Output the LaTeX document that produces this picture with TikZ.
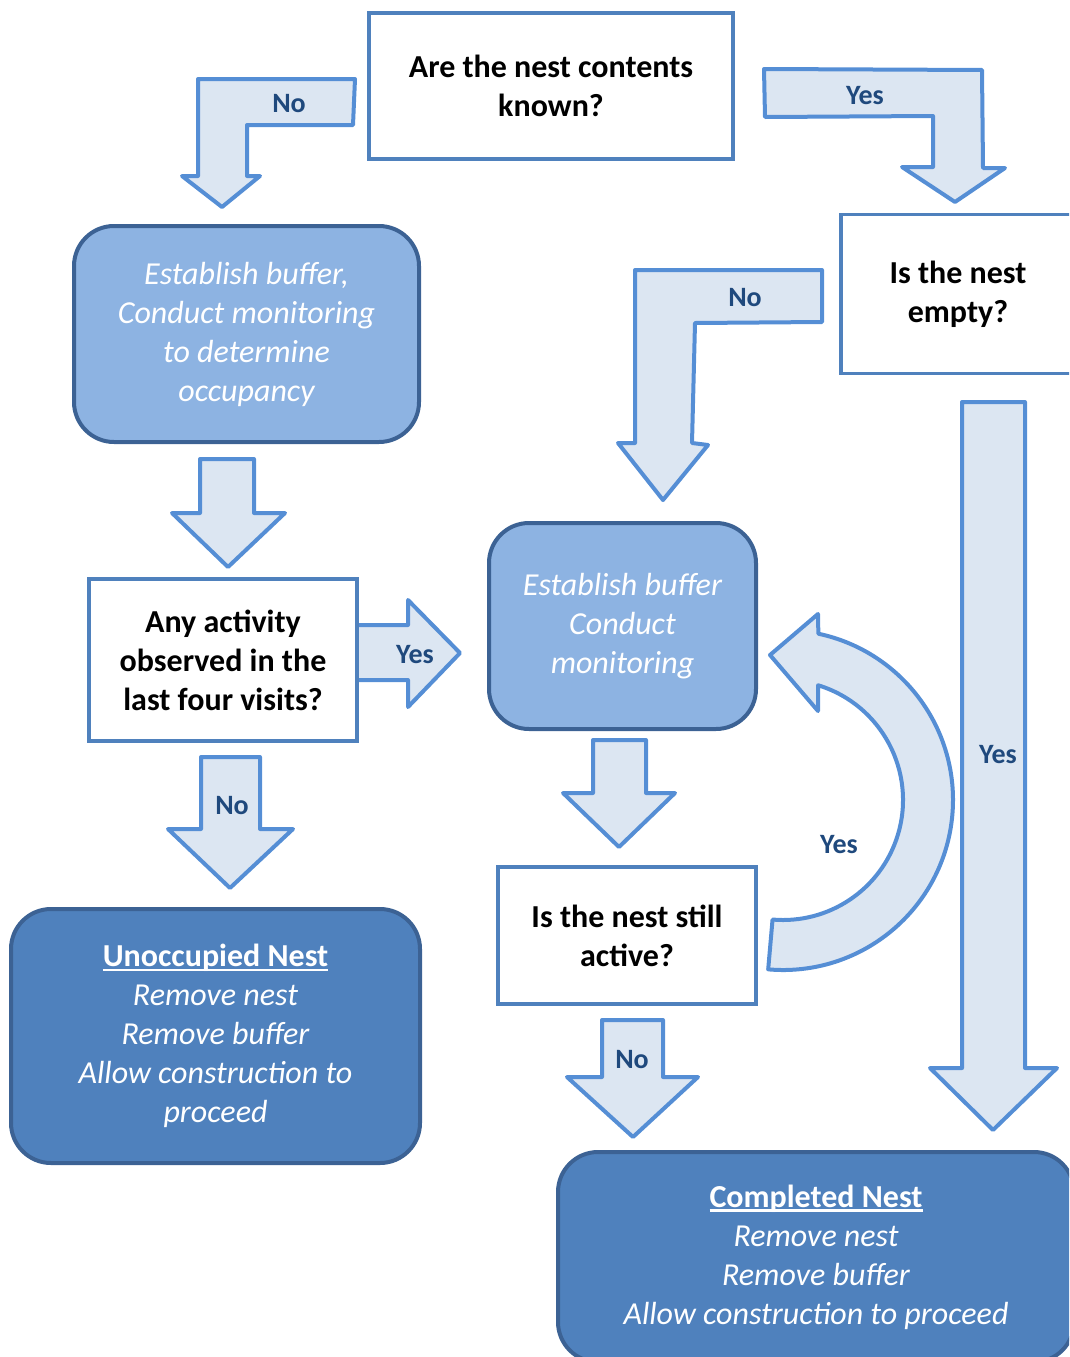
\documentclass[tikz,border=0pt]{standalone}
\usepackage{fontspec}
\setmainfont{Carlito}
\usetikzlibrary{calc}
\definecolor{arrowfill}{HTML}{DCE6F2}
\definecolor{arrowline}{HTML}{558ED5}
\definecolor{lblblue}{HTML}{1F497D}
\definecolor{lightbox}{HTML}{8DB3E2}
\definecolor{darkbox}{HTML}{4F81BD}
\definecolor{boxedge}{HTML}{3C6294}
\definecolor{qedge}{HTML}{4F81BD}
\newcommand\myul[1]{\setbox0\hbox{#1}\rlap{\rule[-4.5pt]{\wd0}{2.5pt}}\box0}
\begin{document}
\begin{tikzpicture}[x=1pt,y=-1pt,
  qbox/.style={draw=qedge, line width=3.5pt, fill=white, inner sep=0pt, align=center,
    font=\fontsize{32}{39}\selectfont\bfseries},
  lbox/.style={draw=boxedge, line width=4pt, fill=lightbox, rounded corners=40pt, inner sep=0pt,
    align=center, text=white, font=\fontsize{32}{39}\selectfont\itshape},
  dbox/.style={lbox, fill=darkbox},
  blockarrow/.style={draw=arrowline, fill=arrowfill, line width=4pt, line join=round},
  lbl/.style={text=lblblue, font=\fontsize{28}{34}\selectfont\bfseries, inner sep=0pt}]
\useasboundingbox (0,0) rectangle (1069,1357);
\clip (0,0) rectangle (1069,1357);

% block arrows
\draw[blockarrow] (198,79) -- (355,79) -- (353,125) -- (247,125) -- (247,176) -- (260,176) -- (222,207) -- (182,176) -- (198,176) -- cycle;
\draw[blockarrow] (764,69) -- (982,70) -- (983,168) -- (1005,168) -- (955,202) -- (902,167) -- (933,167) -- (933,116) -- (765,117) -- cycle;
\draw[blockarrow] (635,270) -- (822,270) -- (822,322) -- (695,323) -- (692,443) -- (708,445) -- (663,500) -- (618,443) -- (635,443) -- cycle;
\draw[blockarrow] (200,459) -- (254,459) -- (254,513) -- (285,513) -- (228,567) -- (172,513) -- (200,513) -- cycle;
\draw[blockarrow] (353,625) -- (408,625) -- (408,600) -- (460,653) -- (408,707) -- (408,680) -- (353,680) -- cycle;
\draw[blockarrow] (201,757) -- (260,757) -- (260,829) -- (293,829) -- (230,888) -- (168,829) -- (201,829) -- cycle;
\draw[blockarrow] (593,740) -- (646,740) -- (646,793) -- (675,793) -- (619,847) -- (563,793) -- (593,793) -- cycle;
\draw[blockarrow] (962,402) -- (1025,402) -- (1025,1068) -- (1057,1068) -- (993,1130) -- (930,1068) -- (962,1068) -- cycle;
\draw[blockarrow] (602,1020) -- (663,1020) -- (663,1077) -- (698,1077) -- (633,1137) -- (567,1077) -- (602,1077) -- cycle;
\coordinate (cc) at (783,800);
\draw[blockarrow] ($(cc)+(95:170)$) arc[start angle=95, end angle=-78, radius=170]
  -- (818,614) -- (770,655) -- (818,711) -- ($(cc)+(-73:120)$)
  arc[start angle=-73, end angle=95, radius=120] -- cycle;

% boxes
\node[qbox, minimum width=364pt, minimum height=146pt] (known) at (551,86) {Are the nest contents\\known?};
\node[qbox, minimum width=234pt, minimum height=159pt] (empty) at (958,294) {Is the nest\\empty?};
\node[lbox, minimum width=345pt, minimum height=216pt] (estab1) at (246.5,334) {Establish buffer,\\Conduct monitoring\\to determine\\occupancy};
\node[qbox, minimum width=268pt, minimum height=162pt] (activity) at (223,660) {Any activity\\observed in the\\last four visits?};
\node[lbox, minimum width=267pt, minimum height=206pt] (estab2) at (622.5,626) {Establish buffer\\Conduct\\monitoring};
\node[dbox, minimum width=409pt, minimum height=254pt] (unocc) at (215.5,1036) {{\upshape\bfseries\myul{Unoccupied Nest}}\\Remove nest\\Remove buffer\\Allow construction to\\proceed};
\node[qbox, minimum width=258pt, minimum height=137pt] (still) at (627,935.5) {Is the nest still\\active?};
\node[dbox, minimum width=516pt, minimum height=210pt] (compl) at (816,1257) {{\upshape\bfseries\myul{Completed Nest}}\\Remove nest\\Remove buffer\\Allow construction to proceed};

% labels
\node[lbl] (l1) at (289,104) {No};
\node[lbl] (l2) at (865,96) {Yes};
\node[lbl] (l3) at (745,298) {No};
\node[lbl] (l4) at (415,655) {Yes};
\node[lbl] (l5) at (232,806) {No};
\node[lbl] (l6) at (839,845) {Yes};
\node[lbl] (l7) at (998,755) {Yes};
\node[lbl] (l8) at (632,1060) {No};
\end{tikzpicture}
\end{document}
